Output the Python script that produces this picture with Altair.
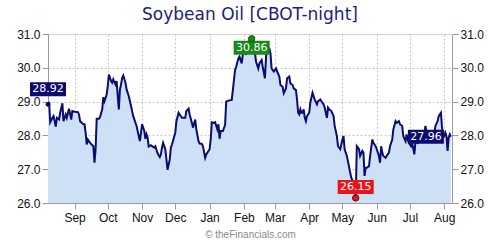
import altair as alt
import pandas as pd

# ---- data ----
dates = [
    "2018-08-08", "2018-08-09", "2018-08-10", "2018-08-12", "2018-08-13", "2018-08-15", "2018-08-16",
    "2018-08-18", "2018-08-19", "2018-08-21", "2018-08-22", "2018-08-24", "2018-08-25", "2018-08-27",
    "2018-08-29", "2018-08-30",
    "2018-09-01", "2018-09-04", "2018-09-05", "2018-09-06", "2018-09-09", "2018-09-10", "2018-09-11",
    "2018-09-12", "2018-09-13", "2018-09-15", "2018-09-18", "2018-09-19", "2018-09-20", "2018-09-21",
    "2018-09-23", "2018-09-24", "2018-09-26", "2018-09-27", "2018-09-28", "2018-09-30",
    "2018-10-01", "2018-10-02", "2018-10-04", "2018-10-05", "2018-10-06", "2018-10-08", "2018-10-09",
    "2018-10-10", "2018-10-11", "2018-10-12", "2018-10-13", "2018-10-14", "2018-10-15", "2018-10-17",
    "2018-10-18", "2018-10-20", "2018-10-22", "2018-10-24", "2018-10-27", "2018-10-30",
    "2018-11-01", "2018-11-02", "2018-11-03", "2018-11-04", "2018-11-05", "2018-11-06", "2018-11-07",
    "2018-11-09", "2018-11-10", "2018-11-12", "2018-11-13", "2018-11-15", "2018-11-16", "2018-11-17",
    "2018-11-18", "2018-11-19", "2018-11-20", "2018-11-22", "2018-11-23", "2018-11-24", "2018-11-26",
    "2018-11-27", "2018-11-28",
    "2018-12-01", "2018-12-02", "2018-12-04", "2018-12-05", "2018-12-07", "2018-12-08", "2018-12-10",
    "2018-12-11", "2018-12-13", "2018-12-14", "2018-12-16", "2018-12-17", "2018-12-19", "2018-12-20",
    "2018-12-22", "2018-12-23", "2018-12-25", "2018-12-26", "2018-12-28", "2018-12-29",
    "2019-01-01", "2019-01-02", "2019-01-03", "2019-01-05", "2019-01-06", "2019-01-08", "2019-01-09",
    "2019-01-10", "2019-01-11", "2019-01-12", "2019-01-13", "2019-01-15", "2019-01-16", "2019-01-18",
    "2019-01-21", "2019-01-22", "2019-01-24", "2019-01-25", "2019-01-27", "2019-01-28", "2019-01-30",
    "2019-01-31",
    "2019-02-02", "2019-02-03", "2019-02-05", "2019-02-07", "2019-02-08", "2019-02-09", "2019-02-11",
    "2019-02-12", "2019-02-14", "2019-02-15", "2019-02-17", "2019-02-18", "2019-02-20", "2019-02-21",
    "2019-02-22", "2019-02-24", "2019-02-25", "2019-02-26", "2019-02-28",
    "2019-03-02", "2019-03-03", "2019-03-05", "2019-03-06", "2019-03-08", "2019-03-09", "2019-03-11",
    "2019-03-12", "2019-03-14", "2019-03-15", "2019-03-17", "2019-03-18", "2019-03-20", "2019-03-21",
    "2019-03-22", "2019-03-23", "2019-03-24", "2019-03-25", "2019-03-26", "2019-03-27", "2019-03-28",
    "2019-03-29", "2019-03-30",
    "2019-04-01", "2019-04-02", "2019-04-04", "2019-04-05", "2019-04-06", "2019-04-08", "2019-04-09",
    "2019-04-11", "2019-04-12", "2019-04-14", "2019-04-15", "2019-04-17", "2019-04-18", "2019-04-19",
    "2019-04-21", "2019-04-23", "2019-04-24", "2019-04-26", "2019-04-27", "2019-04-29", "2019-04-30",
    "2019-05-01", "2019-05-02", "2019-05-03", "2019-05-05", "2019-05-06", "2019-05-08", "2019-05-09",
    "2019-05-11", "2019-05-12", "2019-05-13", "2019-05-14", "2019-05-16", "2019-05-17", "2019-05-19",
    "2019-05-20", "2019-05-21", "2019-05-22", "2019-05-23", "2019-05-25", "2019-05-26", "2019-05-28",
    "2019-05-29", "2019-05-31",
    "2019-06-01", "2019-06-03", "2019-06-04", "2019-06-05", "2019-06-06", "2019-06-07", "2019-06-09",
    "2019-06-10", "2019-06-12", "2019-06-13", "2019-06-15", "2019-06-16", "2019-06-18", "2019-06-19",
    "2019-06-21", "2019-06-22", "2019-06-24", "2019-06-25", "2019-06-27", "2019-06-28", "2019-06-29",
    "2019-06-30",
    "2019-07-02", "2019-07-03", "2019-07-05", "2019-07-06", "2019-07-08", "2019-07-09", "2019-07-11",
    "2019-07-12", "2019-07-14", "2019-07-15", "2019-07-17", "2019-07-18", "2019-07-20", "2019-07-21",
    "2019-07-23", "2019-07-24", "2019-07-26", "2019-07-27", "2019-07-29", "2019-07-30", "2019-07-31",
    "2019-08-01", "2019-08-02", "2019-08-03", "2019-08-04", "2019-08-05", "2019-08-06", "2019-08-07",
]

prices = [
    28.92, 28.99, 28.39, 28.52, 28.57, 28.26, 28.52,
    28.47, 28.67, 28.95, 28.42, 28.62, 28.52, 28.79,
    28.47, 28.72,
    28.70, 28.69, 28.62, 28.42, 28.33, 28.33, 28.08,
    27.73, 27.88, 27.78, 27.68, 27.19, 27.59, 28.49,
    28.49, 28.54, 28.77, 29.13, 29.01, 29.21,
    29.46, 29.80, 29.61, 29.56, 29.66, 29.51, 29.61,
    29.16, 28.77, 29.36, 29.51, 29.70, 29.77, 29.56,
    29.36, 29.16, 28.87, 28.57, 28.28, 27.83,
    28.33, 28.23, 28.13, 27.90, 28.03, 27.93, 27.67,
    27.71, 27.68, 27.64, 27.68, 27.47, 27.41, 27.36,
    27.44, 27.64, 27.78, 27.59, 27.29, 26.98, 27.29,
    27.64, 27.73,
    28.08, 28.42, 28.67, 28.62, 28.52, 28.52, 28.52,
    28.72, 28.79, 28.62, 28.37, 28.23, 28.47, 28.18,
    27.83, 27.76, 27.75, 27.68, 27.34, 27.44,
    27.59, 27.88, 28.39, 28.37, 28.39, 28.18, 28.33,
    27.90, 28.13, 28.13, 28.13, 28.31, 29.00, 29.03,
    29.05, 29.34, 29.93, 30.03, 30.28, 30.33, 30.13,
    30.38,
    30.53, 30.38, 30.77, 30.80, 30.86, 30.72, 30.43,
    30.18, 29.98, 30.13, 30.23, 30.03, 29.69, 30.33,
    30.62, 30.57, 30.43, 29.98, 29.89,
    29.98, 29.89, 29.74, 29.49, 29.44, 29.25, 29.39,
    29.69, 29.74, 29.54, 29.49, 29.39, 29.34, 29.06,
    28.67, 28.62, 28.77, 28.67, 28.67, 28.77, 28.52,
    28.42, 28.57,
    28.67, 28.97, 29.26, 29.16, 29.06, 28.92, 29.01,
    29.06, 29.01, 28.92, 28.82, 28.52, 28.82, 28.77,
    28.72, 28.57, 28.28, 27.98, 27.68, 27.59, 27.73,
    27.88, 27.98, 27.59, 27.39, 27.24, 26.90, 26.75,
    26.60, 26.50, 26.15, 27.68, 27.59, 27.39, 27.54,
    27.49, 26.80, 27.04, 27.04, 27.09, 27.39, 27.88,
    27.78, 27.68,
    27.59, 27.39, 27.19, 27.68, 27.49, 27.39, 27.34,
    27.39, 27.49, 27.68, 27.88, 28.18, 28.42, 28.37,
    28.42, 28.33, 28.28, 27.98, 27.83, 28.03, 27.88,
    27.78,
    27.68, 27.78, 27.44, 27.83, 27.78, 27.88, 27.93,
    27.98, 28.03, 28.28, 27.93, 27.83, 27.83, 27.93,
    28.03, 28.28, 28.42, 28.57, 28.67, 28.23, 28.03,
    27.98, 28.08, 27.98, 27.54, 27.93, 28.03, 27.96,
]

title_text = "Soybean Oil [CBOT-night]"
footer_text = "\u00a9 theFinancials.com"
y_ticks = [26, 27, 28, 29, 30, 31]
y_domain = [26, 31]
x_domain = ["2018-08-08", "2019-08-08"]

# ---- styling ----
NAVY = "#0b0b70"
AREA = "#cde0f6"
GREEN = "#178a17"
RED = "#e8141a"
GRID = "#c8c8c8"
AXIS_GRAY = "#9a9a9a"
FONT = "DejaVu Sans"
BOX = "M-1.8,-0.7H1.8V0.7H-1.8Z"

df = pd.DataFrame({"date": dates, "price": prices})


def one_point(i):
    return pd.DataFrame({"date": [dates[i]], "price": [prices[i]],
                         "label": [f"{prices[i]:.2f}"]})


i_max = int(df["price"].idxmax())
i_min = int(df["price"].idxmin())
start_df = one_point(0)
end_df = one_point(len(dates) - 1)
max_df = one_point(i_max)
min_df = one_point(i_min)

x_scale = alt.Scale(type="utc", domain=x_domain)
y_scale = alt.Scale(domain=y_domain, zero=False, nice=False)

x_axis = alt.Axis(
    tickCount={"interval": "month", "step": 1},
    labelExpr="utcFormat(datum.value, '%b')", labelOverlap=False,
    grid=True, gridDash=[2, 2], gridColor=GRID,
    domainColor=AXIS_GRAY, tickColor=AXIS_GRAY, tickSize=6,
    labelFontSize=12, labelColor="#111111", labelPadding=3, labelFlush=False,
    title=footer_text, titleFontSize=10, titleColor="#8a8a8a",
    titleFontWeight="normal", titlePadding=6,
)


def y_axis(orient, grid):
    return alt.Axis(
        orient=orient, values=y_ticks, format=".1f", grid=grid,
        gridDash=[2, 2], gridColor=GRID,
        domainColor=AXIS_GRAY, tickColor=AXIS_GRAY, tickSize=6,
        labelFontSize=12, labelColor="#111111", labelPadding=2, title=None,
    )


X = alt.X("date:T", scale=x_scale, axis=x_axis)


def Y(axis=None):
    return alt.Y("price:Q", scale=y_scale, axis=axis)


area = alt.Chart(df).mark_area(color=AREA).encode(
    x=X, y=Y(y_axis("left", True)), y2=alt.datum(26)
)
line = alt.Chart(df).mark_line(color=NAVY, strokeWidth=2).encode(
    x=X, y=Y(y_axis("right", False))
)


def box(data, color, xoff=0, yoff=0):
    return alt.Chart(data).mark_point(
        shape=BOX, size=400, filled=True, opacity=1, color=color, strokeWidth=0,
        xOffset=xoff, yOffset=yoff,
    ).encode(x=X, y=Y())


def label(data, xoff=0, yoff=0):
    return alt.Chart(data).mark_text(
        color="white", fontSize=11, font=FONT, align="center", baseline="middle",
        xOffset=xoff, yOffset=yoff,
    ).encode(x=X, y=Y(), text="label:N")


def dot(data, fill, stroke, size):
    return alt.Chart(data).mark_point(
        filled=True, opacity=1, fill=fill, stroke=stroke, strokeWidth=1, size=size,
    ).encode(x=X, y=Y())


chart = alt.layer(
    area,
    line,
    box(start_df, NAVY, yoff=-15), label(start_df, yoff=-15),
    box(end_df, NAVY, xoff=-25), label(end_df, xoff=-25),
    box(max_df, GREEN, yoff=9), label(max_df, yoff=9),
    box(min_df, RED, yoff=-11), label(min_df, yoff=-11),
    dot(max_df, GREEN, "#0d5a0d", 40),
    dot(min_df, RED, "#5a0a2a", 40),
    dot(start_df, NAVY, NAVY, 16),
).resolve_axis(y="independent").properties(
    width=404, height=169, autosize="none",
    padding={"left": 48, "top": 34, "right": 48, "bottom": 47},
    title=alt.TitleParams(
        text=title_text, fontSize=17, font=FONT, fontWeight="normal",
        color="#1d1d7a", anchor="middle", offset=4,
    ),
).configure_axis(
    labelFont=FONT, titleFont=FONT
).configure_view(
    stroke="#d4d4d4"
).configure(background="white")

chart.save("out.html", embed_options={"renderer": "svg", "actions": False})
